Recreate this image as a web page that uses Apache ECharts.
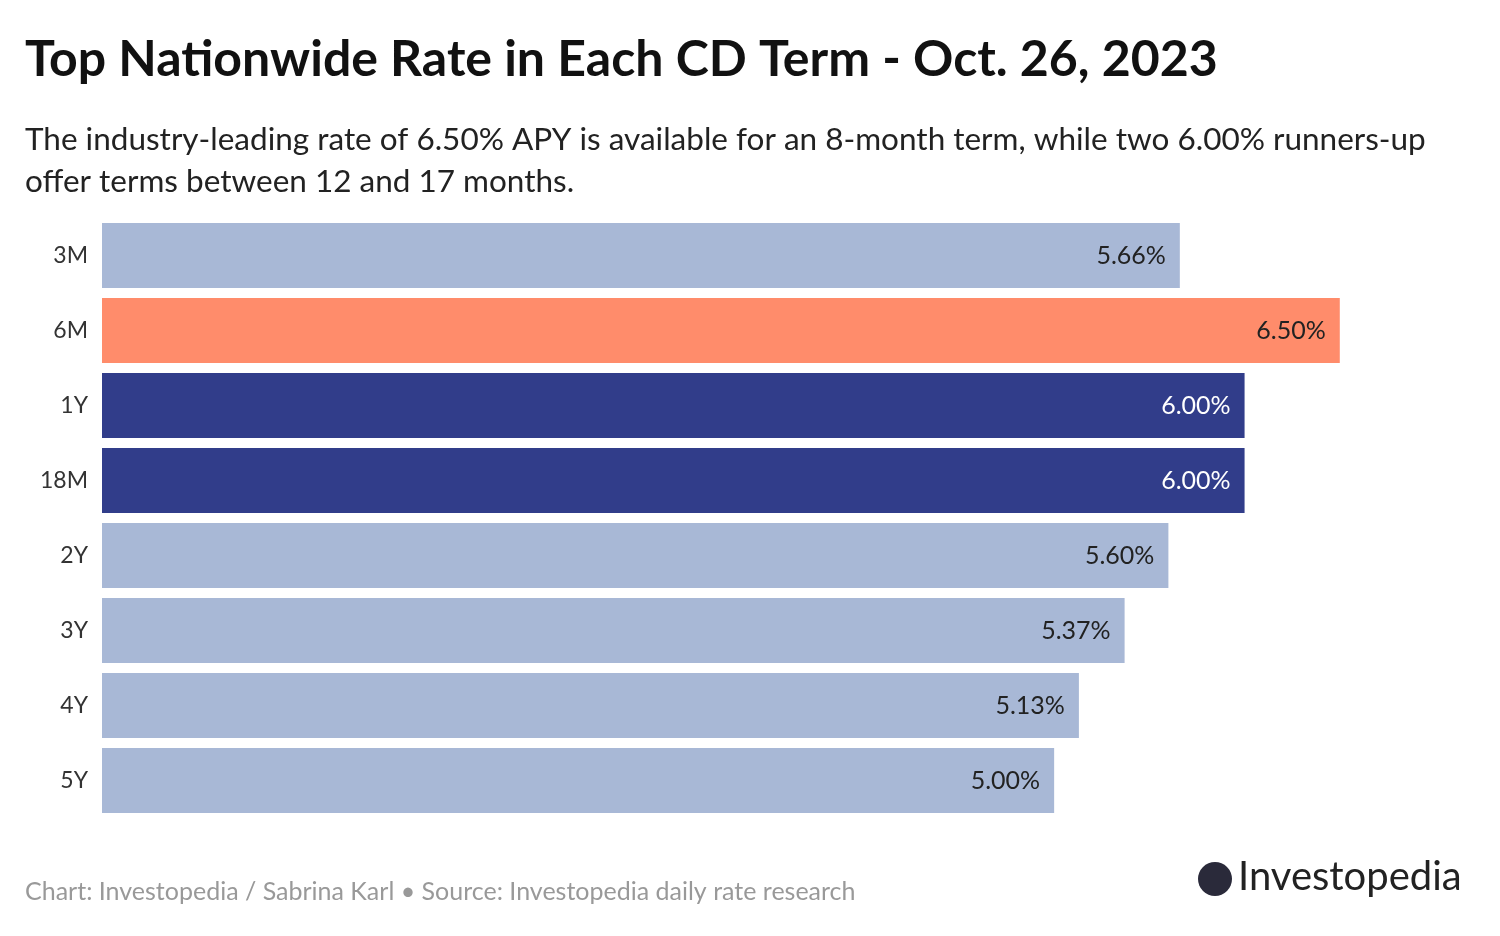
<!DOCTYPE html>
<html><head><meta charset="utf-8">
<script src="https://cdn.jsdelivr.net/npm/echarts@6/dist/echarts.min.js"></script>
<style>html,body{margin:0;background:#fff}#c{width:1500px;height:936px}</style>
</head><body><div id="c"></div>
<script>
const categories = ['3M','6M','1Y','18M','2Y','3Y','4Y','5Y'];
const rates = [5.66, 6.50, 6.00, 6.00, 5.60, 5.37, 5.13, 5.00];
const barColors = ['#a8b8d6','#ff8c6b','#313d8a','#313d8a','#a8b8d6','#a8b8d6','#a8b8d6','#a8b8d6'];
const labelColors = ['#222','#222','#fff','#fff','#222','#222','#222','#222'];
const F = 'Lato, "Noto Sans", sans-serif';
const chart = echarts.init(document.getElementById('c'));
chart.setOption({
  animation:false,
  title:[
    {text:'Top Nationwide Rate in Each CD Term - Oct. 26, 2023',left:20,top:30,textStyle:{fontFamily:F,fontSize:50,fontWeight:'bold',color:'#111'}},
    {text:'The industry-leading rate of 6.50% APY is available for an 8-month term, while two 6.00% runners-up\noffer terms between 12 and 17 months.',left:20,top:114,textStyle:{fontFamily:F,fontSize:31.5,fontWeight:'normal',color:'#222',lineHeight:42}},
    {text:'Chart: Investopedia / Sabrina Karl • Source: Investopedia daily rate research',left:20,top:874,textStyle:{fontFamily:F,fontSize:25,fontWeight:'normal',color:'#999'}}
  ],
  graphic:[
    {type:'circle',shape:{cx:1215,cy:879,r:17},style:{fill:'#2a2a3a'}},
    {type:'text',left:1238,top:857,style:{text:'Investopedia',font:'40px '+F,fill:'#222'}}
  ],
  grid:{left:102,top:218,width:1333,height:600,containLabel:false},
  xAxis:{type:'value',min:0,max:7,show:false},
  yAxis:{type:'category',data:categories,inverse:true,axisLine:{show:false},axisTick:{show:false},
    axisLabel:{fontFamily:F,fontSize:23,color:'#333',margin:14}},
  series:[{type:'bar',barWidth:65,
    data:rates.map((v,i)=>({value:v,itemStyle:{color:barColors[i]},label:{color:labelColors[i]}})),
    label:{show:true,position:'insideRight',distance:14,fontFamily:F,fontSize:25,formatter:p=>p.value.toFixed(2)+'%'}}]
});
</script></body></html>
